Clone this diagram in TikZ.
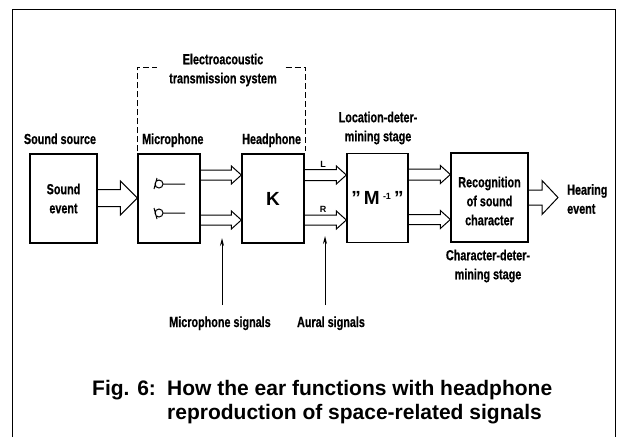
\documentclass[tikz,border=0pt]{standalone}
\usepackage{fontspec}
\setmainfont{Liberation Sans}
\newfontfamily\cond{Liberation Sans}[FakeStretch=0.74,FakeBold=0.6]
\usetikzlibrary{arrows.meta,calc}
\newcommand\hollowarrow[6]{%
  \draw[sig] let \p1=($(#1)+(0,#3)$), \p2=($(#2)+(0,#3)$) in
    (\x1,\y1+#4) -- (\x2-#6,\y1+#4) -- (\x2-#6,\y1+#5) -- (\x2,\y1)
    -- (\x2-#6,\y1-#5) -- (\x2-#6,\y1-#4) -- (\x1,\y1-#4);}
\tikzset{
  lbl/.style={font=\cond\bfseries\fontsize{14.6}{19}\selectfont, inner sep=0pt, align=center},
  blk/.style={draw, line width=1.3pt, minimum height=89pt, inner sep=0pt},
  sig/.style={line width=1pt},
  frameline/.style={line width=0.9pt},
  bracket/.style={line width=1pt, dash pattern=on 6pt off 3pt},
  pointer/.style={line width=1pt, -{Stealth[length=8pt,width=4pt]}},
  captext/.style={font=\bfseries\fontsize{21}{24}\selectfont, inner sep=0pt},
  lr/.style={font=\bfseries\fontsize{9}{9}\selectfont, inner sep=0pt},
}
\begin{document}
\begin{tikzpicture}[x=1pt,y=-1pt]
\useasboundingbox (0,0) rectangle (620,437);
% frame
\draw[frameline] (12,437) -- (12,9) -- (615,9) -- (615,437);
% blocks
\node[blk, minimum width=67pt, lbl] (src) at (63.5,198.5) {Sound\\event};
\node[blk, minimum width=62pt] (mic) at (169,198.5) {};
\node[blk, minimum width=62pt, font=\bfseries\fontsize{19}{19}\selectfont] (hp) at (273,198.5) {K};
\node[blk, minimum width=61pt, font=\bfseries\fontsize{19}{19}\selectfont] (minv) at (377.5,198) {”\,M\,\raisebox{5pt}{\fontsize{9}{9}\selectfont -1}\,”};
\node[blk, minimum width=77pt] (rec) at (489.5,197.5) {};
\node[lbl] (rectxt) at (489.5,201) {Recognition\\of sound\\character};
% top labels
\node[lbl, anchor=base] (srclbl) at (60,144) {Sound source};
\node[lbl, anchor=base west] (miclbl) at (142,144) {Microphone};
\node[lbl, anchor=base west] (hplbl) at (242,144) {Headphone};
\node[lbl] (etlbl) at (223,70) {Electroacoustic\\transmission system};
\node[lbl] (loclbl) at (378,128) {Location-deter-\\mining stage};
\node[lbl] (charlbl) at (488,266) {Character-deter-\\mining stage};
\node[lbl, align=left, anchor=west] (hear) at (567,199) {Hearing\\event};
% bracket
\draw[bracket] ($(mic.north west)+(0,-2)$) -- ($(mic.north west)+(0,-86)$) -- ++(20,0);
\draw[bracket] ($(hp.north east)+(-19,-86)$) -- ($(hp.north east)+(1,-86)$) -- ($(hp.north east)+(1,-2)$);
% microphone symbols
\draw[sig] (159,184) circle (4) (163,184) -- (185,184) (157,178) -- (154,189);
\draw[sig] (159,213) circle (4) (163,213) -- (185,213) (154,208) -- (157,219);
% arrows
\hollowarrow{src.east}{mic.west}{-0.5}{8.5pt}{17pt}{17pt}
\hollowarrow{mic.east}{hp.west}{-23.5}{5pt}{9pt}{10pt}
\hollowarrow{mic.east}{hp.west}{21.5}{5pt}{9pt}{10pt}
\hollowarrow{hp.east}{minv.west}{-23.5}{5.5pt}{9pt}{10pt}
\hollowarrow{hp.east}{minv.west}{21.5}{5pt}{9pt}{10pt}
\hollowarrow{minv.east}{rec.west}{-23.5}{5.5pt}{9pt}{10pt}
\hollowarrow{minv.east}{rec.west}{21.5}{5pt}{9pt}{10pt}
\coordinate (heartip) at (558,196);
\hollowarrow{rec.east}{heartip}{0}{7.5pt}{17pt}{16pt}
\node[lr, anchor=base] (L) at (323,167) {L};
\node[lr, anchor=base] (R) at (323,212) {R};
% signal pointers
\coordinate (mstail) at (222,305);
\coordinate (mstip) at (222,238);
\coordinate (astail) at (325,305);
\coordinate (astip) at (325,236);
\draw[pointer] (mstail) -- (mstip);
\draw[pointer] (astail) -- (astip);
\node[lbl, anchor=base] (mslbl) at (220,327) {Microphone signals};
\node[lbl, anchor=base] (aslbl) at (331,327) {Aural signals};
% caption
\node[captext, anchor=base west] (figno) at (92,395) {Fig. 6:};
\node[captext, anchor=base west] (cap1) at (167,395) {How the ear functions with headphone};
\node[captext, anchor=base west] (cap2) at (167,419) {reproduction of space-related signals};
\end{tikzpicture}
\end{document}
